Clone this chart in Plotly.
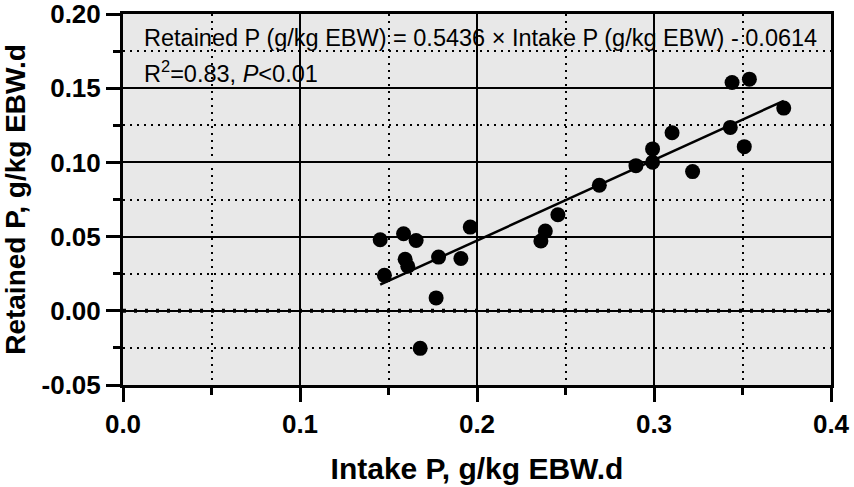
import plotly.graph_objects as go

# Intake P vs retained P, g/kg EBW.d
intake_p = [0.1453, 0.1585, 0.1656, 0.1594, 0.1609, 0.1477, 0.1783, 0.1909, 0.1962,
            0.1769, 0.1679, 0.2361, 0.2386, 0.2457, 0.2691, 0.2898, 0.2992, 0.2992,
            0.3102, 0.3218, 0.3431, 0.3441, 0.3539, 0.3510, 0.3733]
retained_p = [0.0479, 0.0519, 0.0474, 0.0347, 0.0300, 0.0239, 0.0362, 0.0352, 0.0564,
              0.0087, -0.0253, 0.0470, 0.0537, 0.0647, 0.0846, 0.0978, 0.1091, 0.1001,
              0.1200, 0.0938, 0.1236, 0.1538, 0.1561, 0.1106, 0.1366]

# fitted line end points
fit_x = [0.1453, 0.3733]
fit_y = [0.0176, 0.1415]

x_ticks = [0.0, 0.1, 0.2, 0.3, 0.4]
x_labels = ["0.0", "0.1", "0.2", "0.3", "0.4"]
y_ticks = [-0.05, 0.0, 0.05, 0.10, 0.15, 0.20]
y_labels = ["-0.05", "0.00", "0.05", "0.10", "0.15", "0.20"]

equation_text = "Retained P (g/kg EBW) = 0.5436 × Intake P (g/kg EBW) - 0.0614"
stats_text = "R<sup>2</sup>=0.83, <i>P</i><0.01"

FONT = "Liberation Sans, Arial, sans-serif"

fig = go.Figure()
fig.add_trace(go.Scatter(
    x=fit_x, y=fit_y, mode="lines",
    line=dict(color="black", width=2.5), hoverinfo="skip"
))
fig.add_trace(go.Scatter(
    x=intake_p, y=retained_p, mode="markers",
    marker=dict(color="black", size=15, line=dict(width=0))
))

# dotted overlay on the zero line
fig.add_shape(type="line", xref="x", yref="y", x0=0, x1=0.4, y0=0, y1=0,
              line=dict(color="black", width=4, dash="3px,8px"), layer="below")

fig.add_annotation(x=0.0105, y=0.184, xref="x", yref="y", text=equation_text,
                   showarrow=False, xanchor="left", yanchor="middle",
                   font=dict(family=FONT, size=23.5, color="black"))
fig.add_annotation(x=0.0105, y=0.161, xref="x", yref="y", text=stats_text,
                   showarrow=False, xanchor="left", yanchor="middle",
                   font=dict(family=FONT, size=23.5, color="black"))

axis_common = dict(
    showline=True, linecolor="black", linewidth=3, mirror=True,
    ticks="outside", ticklen=14, tickwidth=3, tickcolor="black",
    showgrid=True, gridcolor="black", gridwidth=2, automargin=False,
    ticklabeloverflow="allow",
    tickfont=dict(family=FONT, size=26, color="black", weight="bold"),
)

fig.update_xaxes(
    range=[0, 0.4], tickvals=x_ticks, ticktext=x_labels, zeroline=False,
    title=dict(text="Intake P, g/kg EBW.d", standoff=20,
               font=dict(family=FONT, size=30, color="black", weight="bold")),
    minor=dict(dtick=0.05, tick0=0, ticks="outside", ticklen=7, tickwidth=3,
               tickcolor="black", showgrid=True, gridcolor="black", gridwidth=2,
               griddash="2px,5px"),
    **axis_common
)
fig.update_yaxes(
    range=[-0.05, 0.2], tickvals=y_ticks, ticktext=y_labels,
    zeroline=True, zerolinecolor="black", zerolinewidth=2,
    title=dict(text="Retained P, g/kg EBW.d", standoff=13,
               font=dict(family=FONT, size=28, color="black", weight="bold")),
    minor=dict(dtick=0.025, tick0=0, ticks="outside", ticklen=7, tickwidth=3,
               tickcolor="black", showgrid=True, gridcolor="black", gridwidth=2,
               griddash="2px,5px"),
    **axis_common
)

fig.update_layout(
    width=854, height=487,
    margin=dict(l=123, r=23, t=14, b=102),
    plot_bgcolor="#e8e8e8", paper_bgcolor="white",
    showlegend=False,
    font=dict(family=FONT, color="black"),
)

# page body has a default 8px margin, drop it so the figure fills the window
fig.write_html("out.html", config={"displayModeBar": False},
               post_script="document.body.style.margin = '0';")
